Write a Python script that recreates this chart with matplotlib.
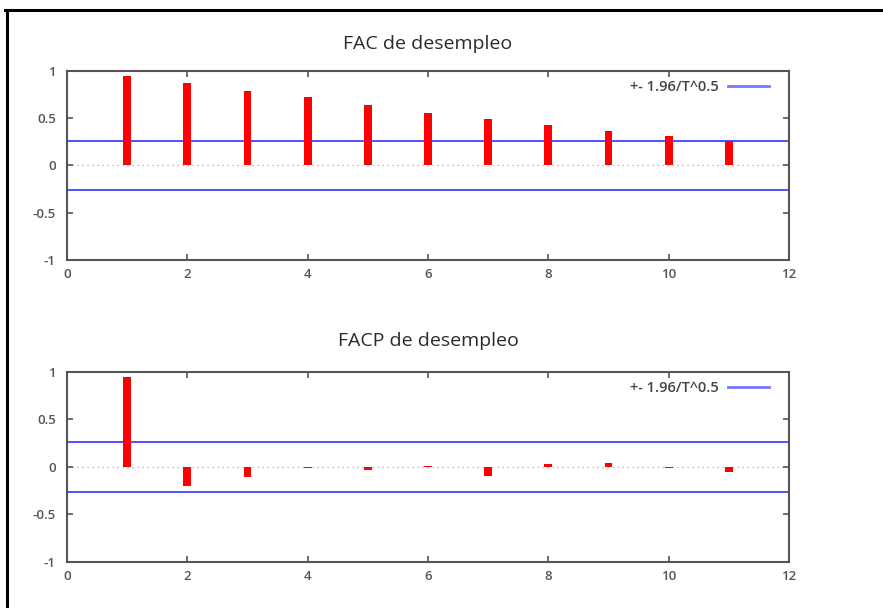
import matplotlib
matplotlib.use("Agg")
import matplotlib.pyplot as plt
from matplotlib.lines import Line2D

lags = [1, 2, 3, 4, 5, 6, 7, 8, 9, 10, 11]
fac = [0.95, 0.87, 0.79, 0.72, 0.64, 0.56, 0.49, 0.43, 0.365, 0.31, 0.255]
facp = [0.95, -0.20, -0.11, -0.01, -0.035, 0.005, -0.10, 0.03, 0.04, -0.01, -0.05]
band = 0.262
band_label = "+- 1.96/T^0.5"
titles = ["FAC de desempleo", "FACP de desempleo"]

plt.rcParams["font.family"] = ["Open Sans", "DejaVu Sans"]

fig = plt.figure(figsize=(8.83, 6.08), dpi=100)
fig.patch.set_facecolor("white")

# outer black frame (top and left edges of the screenshot)
fig.add_artist(Line2D([5 / 883, 1.0], [1 - 10 / 608, 1 - 10 / 608], color="black", lw=2.2,
                      transform=fig.transFigure))
fig.add_artist(Line2D([7 / 883, 7 / 883], [0.0, 1 - 10 / 608], color="black", lw=2.2,
                      transform=fig.transFigure))

axA = fig.add_axes([0.0759, 0.5724, 0.8177, 0.3109])
axB = fig.add_axes([0.0759, 0.0757, 0.8177, 0.3125])

for ax, vals, title, tpad in [(axA, fac, titles[0], 16), (axB, facp, titles[1], 19)]:
    ax.axhline(0, color="#aaaaaa", lw=0.9, ls=(0, (1, 3)), zorder=1)
    ax.axhline(band, color="#5050ff", lw=1.4, zorder=2, label=band_label)
    ax.axhline(-band, color="#5050ff", lw=1.4, zorder=2)
    ax.bar(lags, vals, width=0.13, color="#ff0000", zorder=3)
    ax.set_xlim(0, 12)
    ax.set_ylim(-1, 1)
    ax.set_xticks([0, 2, 4, 6, 8, 10, 12])
    ax.set_yticks([-1, -0.5, 0, 0.5, 1])
    ax.set_yticklabels(["-1", "-0.5", "0", "0.5", "1"])
    ax.tick_params(direction="in", top=True, right=True, length=4, width=1.2,
                   color="#555555", labelsize=9.5, labelcolor="#555555")
    ax.tick_params(axis="y", pad=8)
    ax.tick_params(axis="x", pad=6)
    for lbl in ax.get_xticklabels() + ax.get_yticklabels():
        lbl.set_fontweight("semibold")
    for s in ax.spines.values():
        s.set_color("#555555")
        s.set_linewidth(1.5)
    ax.set_title(title, fontsize=14, color="#2a2a2a", pad=tpad)
    leg = ax.legend(loc="upper right", bbox_to_anchor=(0.984, 1.0), frameon=False,
                    markerfirst=False, fontsize=10.5, handlelength=2.8,
                    labelcolor="#444444", borderaxespad=0.2, handletextpad=0.6)
    for t in leg.get_texts():
        t.set_fontweight("semibold")
    for h in leg.legend_handles:
        h.set_color("#7777ff")
        h.set_linewidth(2)

plt.savefig("out.png", dpi=100)
